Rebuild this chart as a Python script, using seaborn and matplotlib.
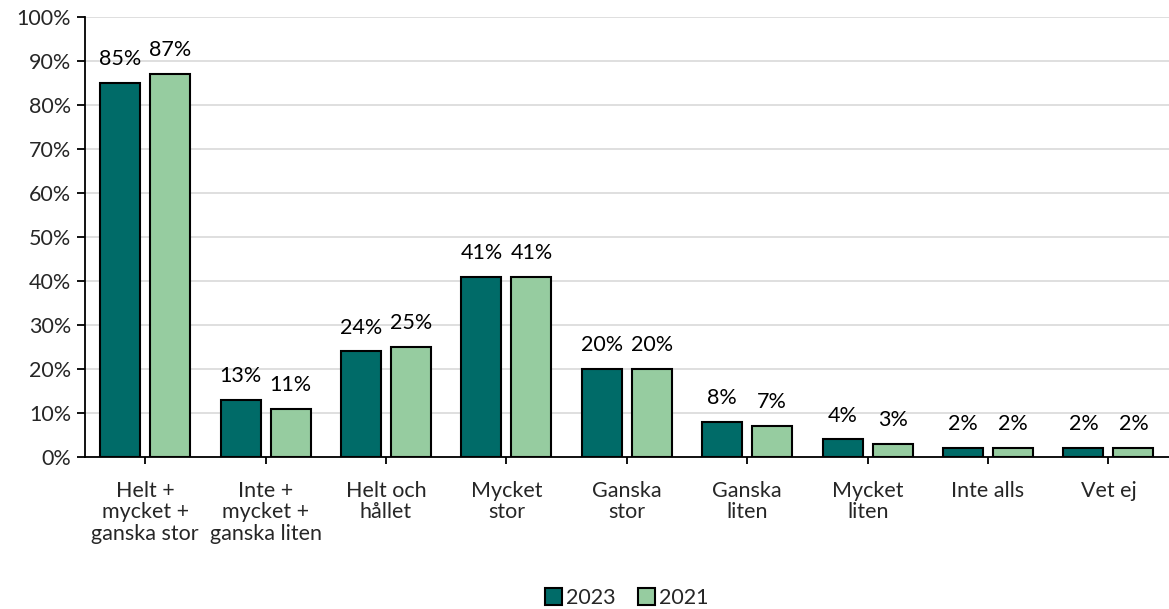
import matplotlib
matplotlib.use("Agg")
import matplotlib.pyplot as plt
import seaborn as sns
import pandas as pd
from matplotlib.ticker import PercentFormatter

categories = [
    "Helt +\nmycket +\nganska stor",
    "Inte +\nmycket +\nganska liten",
    "Helt och\nhållet",
    "Mycket\nstor",
    "Ganska\nstor",
    "Ganska\nliten",
    "Mycket\nliten",
    "Inte alls",
    "Vet ej",
]
values_2023 = [85, 13, 24, 41, 20, 8, 4, 2, 2]
values_2021 = [87, 11, 25, 41, 20, 7, 3, 2, 2]
years = ["2023", "2021"]
colors = ["#006B68", "#96CCA0"]

df = pd.DataFrame({
    "Kategori": categories * 2,
    "Andel": values_2023 + values_2021,
    "År": [years[0]] * len(categories) + [years[1]] * len(categories),
})

sns.set_theme(style="white")
plt.rcParams["font.family"] = ["Lato", "DejaVu Sans"]
FS = 15.5

fig = plt.figure(figsize=(11.69, 6.09), dpi=100)
ax = fig.add_axes([0.0727, 0.2496, 0.927, 0.7224])

sns.barplot(
    data=df, x="Kategori", y="Andel", hue="År", hue_order=years,
    palette=colors, saturation=1, width=0.83, gap=0.2,
    edgecolor="black", linewidth=1.5, ax=ax, legend=True,
)

for container in ax.containers:
    ax.bar_label(container, fmt="%.0f%%", padding=10, fontsize=FS, color="black")

ax.set_ylim(0, 100)
ax.set_xlim(-0.5, len(categories) - 0.5)
ax.set_yticks(range(0, 101, 10))
ax.yaxis.set_major_formatter(PercentFormatter(decimals=0))
ax.grid(axis="y", color="#D9D9D9", linewidth=1.2)
ax.set_axisbelow(True)
ax.set_xlabel("")
ax.set_ylabel("")

for side in ["top", "right"]:
    ax.spines[side].set_visible(False)
for side in ["left", "bottom"]:
    ax.spines[side].set_color("black")
    ax.spines[side].set_linewidth(1.3)

ax.tick_params(axis="y", left=True, length=6, width=1.3, color="black",
               labelsize=FS, pad=4)
ax.tick_params(axis="x", bottom=True, length=5, width=1.3, color="black",
               labelsize=FS, pad=12)
for lbl in ax.get_xticklabels():
    lbl.set_linespacing(1.1)

ax.legend(
    loc="center", bbox_to_anchor=(0.5, -0.32), ncol=2, frameon=False,
    fontsize=FS, handlelength=0.8, handleheight=0.8, handletextpad=0.2,
    columnspacing=1.0, title=None,
)

fig.savefig("out.png", dpi=100)
